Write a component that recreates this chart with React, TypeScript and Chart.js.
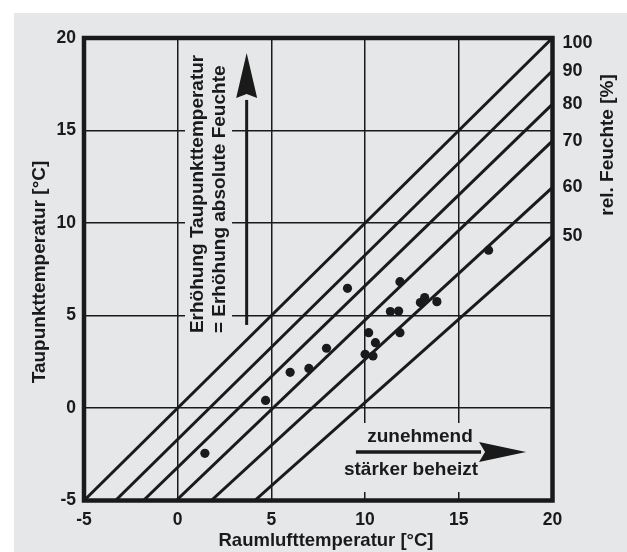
import React, { useEffect, useRef } from 'react';
import { Chart, registerables } from 'chart.js';

Chart.register(...registerables);

const FONT = '"Liberation Sans", Arial, Helvetica, sans-serif';
const INK = '#1a1a1a';
const BG = '#e6e7e8';

// axes
const axisMin = -5;
const axisMax = 20;
const axisStep = 5;

// relative humidity lines: start at (x, -5), end at (20, y)
const rhLabels = ['100', '90', '80', '70', '60', '50'];
const rhStartX = [-5, -3.32, -1.83, -0.08, 1.79, 4.11];
const rhEndY = [20, 18.23, 16.43, 14.44, 11.92, 9.3];

// measured points
const roomTemp = [1.45, 4.69, 6.0, 7.0, 7.94, 9.06, 10.0, 10.19, 10.42, 10.55, 11.35, 11.79, 11.86, 11.86, 12.95, 13.18, 13.83, 16.59];
const dewPoint = [-2.45, 0.41, 1.93, 2.14, 3.23, 6.47, 2.9, 4.07, 2.81, 3.53, 5.21, 5.24, 6.83, 4.07, 5.7, 5.97, 5.75, 8.53];

const xTitle = 'Raumlufttemperatur [°C]';
const yTitle = 'Taupunkttemperatur [°C]';
const rhTitle = 'rel. Feuchte [%]';
const upText = ['Erhöhung Taupunkttemperatur', '= Erhöhung absolute Feuchte'];
const heatText = ['zunehmend', 'stärker beheizt'];

const decoPlugin = {
  id: 'deco',
  beforeDraw(chart: any) {
    const ctx = chart.ctx;
    ctx.save();
    ctx.fillStyle = '#ffffff';
    ctx.fillRect(0, 0, chart.width, chart.height);
    ctx.fillStyle = BG;
    ctx.fillRect(14, 13, chart.width - 14, chart.height - 13);
    ctx.restore();
  },
  beforeDatasetsDraw(chart: any) {
    const { ctx, scales } = chart;
    const px = (v: number) => scales.x.getPixelForValue(v);
    const py = (v: number) => scales.y.getPixelForValue(v);
    ctx.save();
    // boxes interrupting grid behind annotation text
    ctx.fillStyle = BG;
    ctx.fillRect(px(0.39), py(19.62), px(2.9) - px(0.39), py(3.84) - py(19.62));
    ctx.fillRect(px(9.19), py(-0.81), px(19.07) - px(9.19), py(-4.54) - py(-0.81));

    ctx.fillStyle = INK;
    ctx.font = `bold 19px ${FONT}`;
    ctx.textBaseline = 'middle';
    ctx.textAlign = 'left';
    const rot = (t: string, x: number, y: number) => {
      ctx.save();
      ctx.translate(x, y);
      ctx.rotate(-Math.PI / 2);
      ctx.fillText(t, 0, 0);
      ctx.restore();
    };
    rot(upText[0], px(1.08), py(4.05));
    rot(upText[1], px(2.26), py(4.05));

    ctx.textAlign = 'center';
    ctx.fillText(heatText[0], px(12.93), py(-1.57));
    ctx.fillText(heatText[1], px(12.45), py(-3.35));
    ctx.restore();
  },
  afterDatasetsDraw(chart: any) {
    const { ctx, scales, chartArea } = chart;
    const px = (v: number) => scales.x.getPixelForValue(v);
    const py = (v: number) => scales.y.getPixelForValue(v);
    ctx.save();
    ctx.strokeStyle = INK;
    ctx.fillStyle = INK;

    // vertical arrow
    const ax = px(3.68);
    const ayTip = py(19.19);
    const ayBase = py(16.76);
    ctx.lineWidth = 3;
    ctx.beginPath();
    ctx.moveTo(ax, py(4.49));
    ctx.lineTo(ax, ayBase + 2);
    ctx.stroke();
    ctx.beginPath();
    ctx.moveTo(ax, ayTip);
    ctx.lineTo(ax + 10.5, ayBase);
    ctx.lineTo(ax, ayBase - 4);
    ctx.lineTo(ax - 10.5, ayBase);
    ctx.closePath();
    ctx.fill();

    // horizontal arrow
    const hy = py(-2.38);
    const hxTip = px(18.59);
    const hxBase = px(16.08);
    ctx.lineWidth = 3.5;
    ctx.beginPath();
    ctx.moveTo(px(9.51), hy);
    ctx.lineTo(hxBase + 2, hy);
    ctx.stroke();
    ctx.beginPath();
    ctx.moveTo(hxTip, hy);
    ctx.lineTo(hxBase, hy - 10);
    ctx.lineTo(hxBase + 6, hy);
    ctx.lineTo(hxBase, hy + 10);
    ctx.closePath();
    ctx.fill();

    // frame
    ctx.lineWidth = 4.5;
    ctx.strokeRect(chartArea.left, chartArea.top, chartArea.right - chartArea.left, chartArea.bottom - chartArea.top);

    // right RH labels
    ctx.font = `bold 18px ${FONT}`;
    ctx.textAlign = 'left';
    ctx.textBaseline = 'middle';
    rhLabels.forEach((lab, i) => {
      let y = py(rhEndY[i]);
      if (y < chartArea.top + 5) y = chartArea.top + 5;
      ctx.fillText(lab, chartArea.right + 10, y);
    });

    // titles
    const rot = (t: string, x: number, y: number) => {
      ctx.save();
      ctx.translate(x, y);
      ctx.rotate(-Math.PI / 2);
      ctx.fillText(t, 0, 0);
      ctx.restore();
    };
    ctx.textAlign = 'center';
    ctx.font = `bold 19px ${FONT}`;
    rot(rhTitle, 608, 145);
    rot(yTitle, 40, 272);
    ctx.font = `bold 18.5px ${FONT}`;
    ctx.fillText(xTitle, 326, 541);
    ctx.restore();
  },
};

export default function App() {
  const ref = useRef<HTMLCanvasElement>(null);
  useEffect(() => {
    if (!ref.current) return;
    const gridColor = (c: any) =>
      c.tick && (c.tick.value === axisMin || c.tick.value === axisMax) ? 'rgba(0,0,0,0)' : INK;
    const chart = new Chart(ref.current, {
      type: 'scatter',
      data: {
        datasets: [
          {
            label: 'Messwerte',
            data: roomTemp.map((x, i) => ({ x, y: dewPoint[i] })),
            pointRadius: 4.6,
            pointBackgroundColor: INK,
            pointBorderWidth: 0,
            showLine: false,
          },
          ...rhLabels.map((lab, i) => ({
            label: lab + ' %',
            data: [
              { x: rhStartX[i], y: axisMin },
              { x: axisMax, y: rhEndY[i] },
            ],
            showLine: true,
            borderColor: INK,
            borderWidth: 3,
            pointRadius: 0,
            fill: false,
          })),
        ],
      },
      options: {
        responsive: false,
        animation: false,
        devicePixelRatio: 1,
        layout: { padding: { top: 38, right: 74.5, left: 0, bottom: 0 } },
        plugins: { legend: { display: false }, tooltip: { enabled: false } },
        scales: {
          x: {
            type: 'linear',
            min: axisMin,
            max: axisMax,
            afterFit: (s: any) => {
              s.height = 51.5;
            },
            ticks: {
              stepSize: axisStep,
              autoSkip: false,
              maxRotation: 0,
              padding: 9,
              color: INK,
              font: { family: FONT, size: 17.5, weight: 'bold' },
            },
            grid: { color: gridColor, lineWidth: 1.5, drawTicks: false },
            border: { display: false },
          },
          y: {
            type: 'linear',
            min: axisMin,
            max: axisMax,
            afterFit: (s: any) => {
              s.width = 84;
            },
            ticks: {
              stepSize: axisStep,
              autoSkip: false,
              padding: 8,
              color: INK,
              font: { family: FONT, size: 17.5, weight: 'bold' },
            },
            grid: { color: gridColor, lineWidth: 1.5, drawTicks: false },
            border: { display: false },
          },
        },
      },
      plugins: [decoPlugin],
    });
    return () => chart.destroy();
  }, []);
  return (
    <div style={{ position: 'absolute', left: 0, top: 0, width: 627, height: 552 }}>
      <canvas ref={ref} width={627} height={552} />
    </div>
  );
}
